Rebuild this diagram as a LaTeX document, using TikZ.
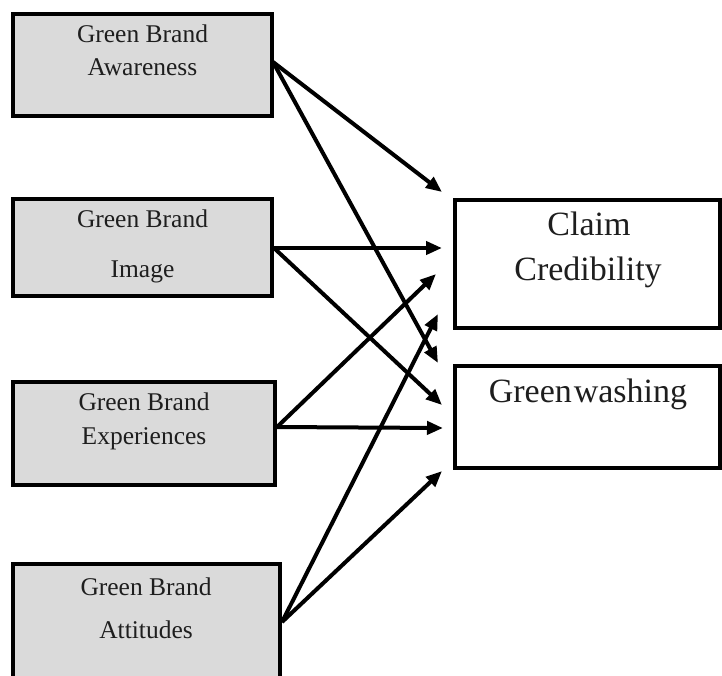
\documentclass[tikz,border=0pt]{standalone}
\usepackage{fontspec}
\setmainfont{Liberation Serif}
\usetikzlibrary{arrows.meta}
\definecolor{boxgray}{RGB}{218,218,218}
\definecolor{inkgray}{RGB}{30,30,30}
\begin{document}
\begin{tikzpicture}[x=1pt,y=-1pt,
  srcbox/.style={draw=black, line width=4.5pt, fill=boxgray, inner sep=0pt, outer sep=0pt},
  dstbox/.style={draw=black, line width=4pt, fill=white, inner sep=0pt, outer sep=0pt},
  srctxt/.style={font=\fontsize{25.5}{30}\selectfont, text=inkgray, inner sep=0pt, anchor=base},
  dsttxt/.style={font=\fontsize{34}{40}\selectfont, text=inkgray, inner sep=0pt, anchor=base},
  conn/.style={draw=black, line width=4pt, -{Triangle[length=16pt,width=13pt]}}]
\useasboundingbox (0,0) rectangle (722,675);
\begin{scope}
\clip (0,0) rectangle (722,675);

% source constructs
\node[srcbox, minimum width=259pt, minimum height=102pt] (aw) at (142.5,65) {};
\node[srcbox, minimum width=259pt, minimum height=97pt] (im) at (142.5,247.5) {};
\node[srcbox, minimum width=262pt, minimum height=103pt] (ex) at (144,433.5) {};
\node[srcbox, minimum width=267pt, minimum height=140pt] (at) at (146.5,634) {};

% outcome constructs
\node[dstbox, minimum width=265pt, minimum height=128pt] (cc) at (587.5,264) {};
\node[dstbox, minimum width=265pt, minimum height=102pt] (gw) at (587.5,417) {};
\end{scope}

% labels
\node[srctxt] (aw1) at (142.5,42) {Green Brand};
\node[srctxt] (aw2) at (142.5,75) {Awareness};
\node[srctxt] (im1) at (142.5,227) {Green Brand};
\node[srctxt] (im2) at (142.5,277) {Image};
\node[srctxt] (ex1) at (144,410) {Green Brand};
\node[srctxt] (ex2) at (144,444) {Experiences};
\node[srctxt] (at1) at (146,595) {Green Brand};
\node[srctxt] (at2) at (146,638) {Attitudes};
\node[dsttxt] (cc1) at (589,235) {Claim};
\node[dsttxt] (cc2) at (588,280) {Credibility};
\node[dsttxt] (gw1) at (588,402) {Green\kern2pt washing};

% connector origins on the source boxes
\coordinate (awOut) at (273,62);
\coordinate (imOut) at (274,248);
\coordinate (exOut) at (277,427);
\coordinate (atOut) at (282,622);

% arrow targets in front of the outcome boxes
\coordinate (ccA) at (442,192);
\coordinate (ccB) at (442,248);
\coordinate (ccC) at (436,274);
\coordinate (ccD) at (438,314);
\coordinate (gwA) at (438,363);
\coordinate (gwB) at (442,405);
\coordinate (gwC) at (443,428);
\coordinate (gwD) at (442,471);

\draw[conn] (awOut) -- (ccA);
\draw[conn] (awOut) -- (gwA);
\draw[conn] (imOut) -- (ccB);
\draw[conn] (imOut) -- (gwB);
\draw[conn] (exOut) -- (ccC);
\draw[conn] (exOut) -- (gwC);
\draw[conn] (atOut) -- (ccD);
\draw[conn] (atOut) -- (gwD);
\end{tikzpicture}
\end{document}
